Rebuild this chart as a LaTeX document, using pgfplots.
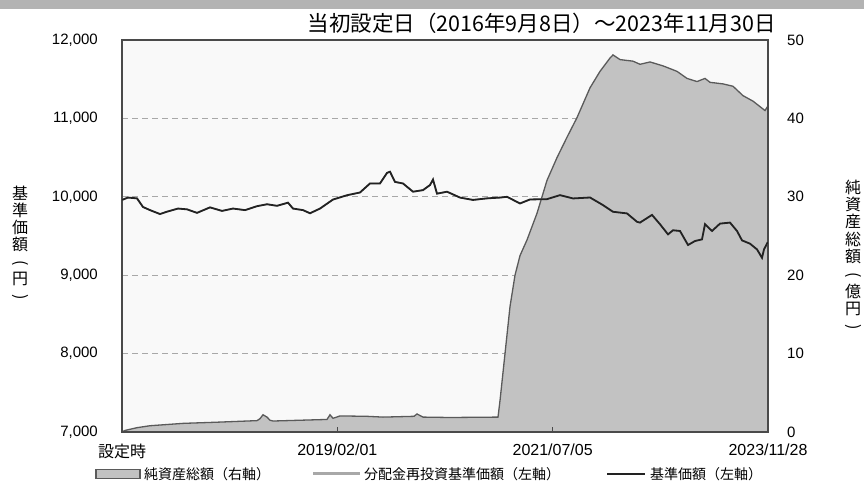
\documentclass[border=0pt]{standalone}
\usepackage{fontspec}
\setmainfont{Liberation Sans}
\newfontfamily\jp{Noto Sans CJK JP}
\usepackage{graphicx}
\usepackage{pgfplots}
\usepackage{pgfplotstable}
\pgfplotsset{compat=1.18}
\definecolor{areafill}{HTML}{C2C2C2}
\definecolor{areaedge}{HTML}{5A5A5A}
\definecolor{framecol}{HTML}{4A4A4A}
\definecolor{bgcol}{HTML}{F9F9F9}
\definecolor{gridcol}{HTML}{A8A8A8}
\definecolor{bandcol}{HTML}{B3B3B3}
\definecolor{navcol}{HTML}{222222}
\definecolor{reinvcol}{HTML}{A8A8A8}
\newcommand{\vlp}{\rotatebox[origin=c]{-90}{(}}
\newcommand{\vrp}{\rotatebox[origin=c]{-90}{)}}

\pgfplotstableread{
x v
0 9960
6 9990
15 9980
21 9870
28 9830
38 9780
45 9810
56 9850
65 9840
75 9795
88 9865
100 9820
111 9850
123 9830
135 9880
145 9905
155 9885
166 9925
171 9850
181 9830
188 9790
198 9850
211 9965
225 10020
238 10055
248 10170
258 10170
265 10305
268 10320
273 10190
281 10170
291 10065
301 10085
308 10150
311 10220
315 10040
325 10065
338 9990
351 9960
365 9980
378 9990
385 10000
398 9915
408 9966
425 9970
438 10021
451 9979
468 9991
481 9894
491 9809
505 9788
515 9681
518 9671
530 9769
538 9650
546 9521
551 9573
558 9564
566 9385
573 9436
580 9457
583 9650
590 9564
598 9658
608 9671
615 9564
620 9444
628 9402
635 9329
640 9222
642 9329
646 9427
}\navdata

\pgfplotstableread{
x v
0 0
3 0.2
15 0.55
28 0.8
61 1.1
95 1.25
135 1.45
138 1.7
141 2.2
145 1.9
148 1.5
151 1.4
205 1.6
208 2.2
211 1.75
218 2.05
245 2.0
261 1.9
292 2.0
295 2.3
301 1.9
328 1.85
376 1.9
378 4.0
383 10
388 16
393 20
398 22.5
405 24.5
415 27.9
425 32.1
435 35
445 37.6
455 40.1
468 43.9
478 46.0
488 47.7
491 48.1
498 47.5
511 47.3
518 46.9
528 47.2
541 46.7
555 46.0
565 45.1
575 44.7
583 45.1
588 44.6
601 44.4
611 44.1
621 42.9
631 42.2
641 41.2
643 41.0
646 41.6
}\assetdata

\begin{document}
\begin{tikzpicture}
\useasboundingbox (0,0) rectangle (864pt,484pt);
\fill[white] (0,0) rectangle (864pt,484pt);
\fill[bandcol] (0,475pt) rectangle (864pt,484pt);

\begin{axis}[
  at={(122pt,52pt)}, anchor=south west,
  width=646pt, height=392pt, scale only axis,
  xmin=0, xmax=646, ymin=0, ymax=50,
  axis x line=none, axis y line*=right,
  y axis line style={draw=framecol, line width=1.8pt, -},
  ytick={0,10,20,30,40,50},
  ymajorgrids, grid style={gridcol, line width=1pt, dash pattern=on 6pt off 4pt},
  tick align=inside, major tick length=5pt, ytick style={framecol, line width=1.2pt},
  yticklabel style={font=\fontsize{15}{18}\selectfont, inner sep=0pt, xshift=19pt, anchor=west},
  axis background/.style={fill=bgcol},
  /pgf/number format/assume math mode=true,
]
\addplot[fill=areafill, draw=areaedge, line width=1.3pt] table[x=x,y=v] {\assetdata} \closedcycle;
\end{axis}

\begin{axis}[
  at={(122pt,52pt)}, anchor=south west,
  width=646pt, height=392pt, scale only axis,
  xmin=0, xmax=646, ymin=7000, ymax=12000,
  axis line style={draw=framecol, line width=1.8pt},
  ytick={7000,8000,9000,10000,11000,12000}, ytick pos=left, ytick style={draw=none},
  scaled y ticks=false,
  yticklabel style={font=\fontsize{15}{18}\selectfont, inner sep=0pt, xshift=-24pt},
  xtick={0,215.333,430.667,646},
  xticklabels={{\jp 設定時},2019/02/01,2021/07/05,2023/11/28},
  xtick pos=bottom, tick align=inside, major tick length=5pt,
  xtick style={framecol, line width=1.2pt},
  xticklabel style={font=\fontsize{16}{19}\selectfont, inner sep=0pt, yshift=-12pt},
  /pgf/number format/.cd, 1000 sep={,}, assume math mode=true,
]
\addplot[reinvcol, line width=1.5pt] table[x=x,y=v] {\navdata};
\addplot[navcol, line width=1.8pt] table[x=x,y=v] {\navdata};
\end{axis}

\node[font=\jp\fontsize{21.5}{24}\selectfont, anchor=east, inner sep=0pt] at (776pt,461pt) {当初設定日（2016年9月8日）～2023年11月30日};

\node[font=\jp\fontsize{16}{17}\selectfont, align=center, inner sep=0pt] at (20pt,240pt) {基\\準\\価\\額\\\vlp\\円\\\vrp};
\node[font=\jp\fontsize{16}{17.4}\selectfont, align=center, inner sep=0pt] at (853pt,228pt) {純\\資\\産\\総\\額\\\vlp\\億\\円\\\vrp};

\fill[areafill, draw=areaedge, line width=1.2pt] (96pt,5.5pt) rectangle (140pt,14.5pt);
\node[anchor=west, font=\jp\fontsize{14}{16}\selectfont, inner sep=0pt] at (144pt,10pt) {純資産総額（右軸）};
\draw[reinvcol, line width=3pt] (313pt,10pt) -- (360pt,10pt);
\node[anchor=west, font=\jp\fontsize{14}{16}\selectfont, inner sep=0pt] at (364pt,10pt) {分配金再投資基準価額（左軸）};
\draw[navcol, line width=1.8pt] (607pt,10pt) -- (645pt,10pt);
\node[anchor=west, font=\jp\fontsize{14}{16}\selectfont, inner sep=0pt] at (650pt,10pt) {基準価額（左軸）};
\end{tikzpicture}
\end{document}
